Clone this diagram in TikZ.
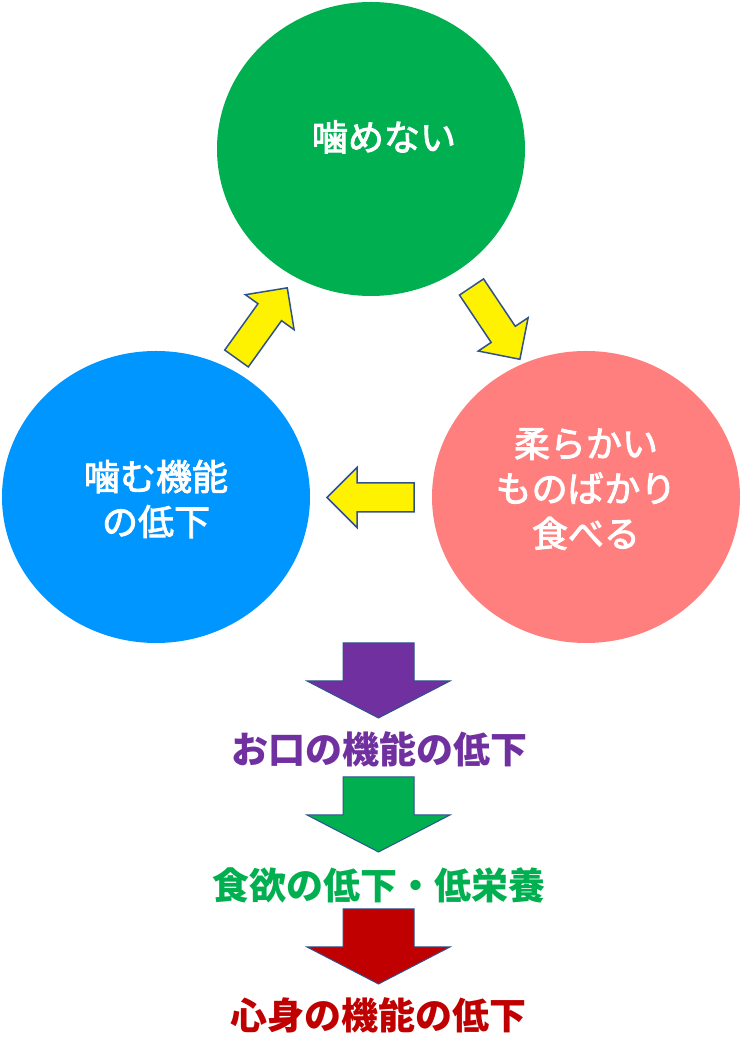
\documentclass[tikz,border=0pt]{standalone}
\usepackage{fontspec}
\setmainfont{Noto Sans CJK JP}
\newfontfamily\semibold[FakeBold=2.5]{Noto Sans CJK JP}
\definecolor{cgreen}{HTML}{00B050}
\definecolor{cpink}{HTML}{FF7F7F}
\definecolor{cblue}{HTML}{0096FF}
\definecolor{cpurple}{HTML}{7030A0}
\definecolor{cred}{HTML}{C00000}
\definecolor{cedge}{HTML}{2F528F}
\tikzset{
  bubble/.style={inner sep=0pt, text=white, align=center,
    font=\fontsize{36}{45}\selectfont\semibold},
  yarrowstyle/.style={draw=cedge, line width=1.5pt, fill=yellow, line join=miter},
  darrowstyle/.style={draw=cedge, line width=1pt, fill=#1, line join=miter},
  result/.style={text=#1, font=\fontsize{37}{44}\selectfont\bfseries, inner sep=0pt}
}
\newcommand{\yellowblockarrow}[3]{%
  \begin{scope}[shift={(#1)}, rotate=#2]
    \coordinate (#3) at (0,0);
    \draw[yarrowstyle] (0,-14.5) -- (57,-14.5) -- (57,-30) -- (87,0) -- (57,30)
      -- (57,14.5) -- (0,14.5) -- cycle;
  \end{scope}}
\newcommand{\downblockarrow}[3]{%
  \begin{scope}[shift={(#1)}]
    \coordinate (#3) at (0,0);
    \draw[darrowstyle=#2] (-35.5,0) -- (35.5,0) -- (35.5,-38) -- (71.5,-38)
      -- (0,-75) -- (-71.5,-38) -- (-35.5,-38) -- cycle;
  \end{scope}}
\begin{document}
\begin{tikzpicture}[x=1pt,y=1pt]
\useasboundingbox[fill=white] (0,0) rectangle (741,1060);
% circles
\fill[cgreen] (371,911) ellipse [x radius=154, y radius=147];
\node[bubble] (chew) at (384,923) {噛めない};
\fill[cpink] (586,563) ellipse [x radius=154, y radius=146];
\node[bubble] (soft) at (586,571) {柔らかい\\ものばかり\\食べる};
\fill[cblue] (156,563) ellipse [x radius=154, y radius=146];
\node[bubble] (func) at (156,561) {噛む機能\\の低下};
% cycle arrows
\yellowblockarrow{236.5,701.5}{54.3}{a1}
\yellowblockarrow{471.5,773}{-56.2}{a2}
\yellowblockarrow{414,562.5}{180}{a3}
% downward chain
\downblockarrow{378.5,417}{cpurple}{d1}
\node[result=cpurple] (t1) at (379,311) {お口の機能の低下};
\downblockarrow{378.5,283}{cgreen}{d2}
\node[result=cgreen] (t2) at (379,175) {食欲の低下・低栄養};
\downblockarrow{378.5,151}{cred}{d3}
\node[result=cred] (t3) at (378,45) {心身の機能の低下};
\end{tikzpicture}
\end{document}
